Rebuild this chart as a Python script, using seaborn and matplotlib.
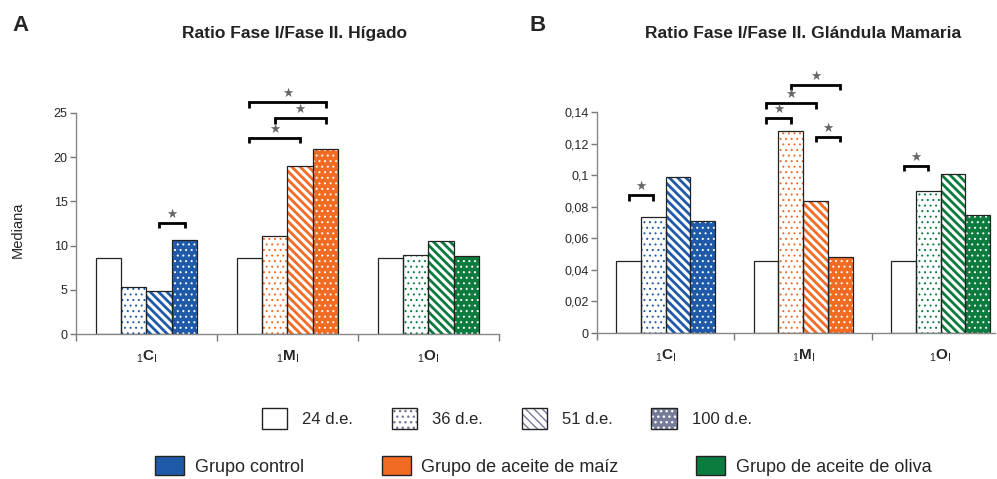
import matplotlib
matplotlib.use("Agg")
import matplotlib.pyplot as plt
from matplotlib.patches import Patch
from matplotlib.legend_handler import HandlerTuple
from matplotlib.ticker import FuncFormatter
import seaborn as sns
import pandas as pd

# --- data ---------------------------------------------------------------
grupos = ["C", "M", "O"]
etiquetas_x = [r"$_{1}\mathbf{C}_{\mathrm{I}}$", r"$_{1}\mathbf{M}_{\mathrm{I}}$", r"$_{1}\mathbf{O}_{\mathrm{I}}$"]
edades = ["24 d.e.", "36 d.e.", "51 d.e.", "100 d.e."]

higado_24 = [8.6, 8.6, 8.6]
higado_36 = [5.35, 11.05, 8.95]
higado_51 = [4.9, 19.05, 10.5]
higado_100 = [10.6, 20.9, 8.85]

mama_24 = [0.0456, 0.0456, 0.0456]
mama_36 = [0.0736, 0.128, 0.0897]
mama_51 = [0.099, 0.0836, 0.1005]
mama_100 = [0.0707, 0.0483, 0.0745]

# significance brackets: (grupo, edad desde, edad hasta, altura)
higado_sig = [(0, 2, 3, 12.6), (1, 0, 2, 22.2), (1, 1, 3, 24.4), (1, 0, 3, 26.2)]
mama_sig = [(0, 0, 1, 0.0873), (1, 0, 1, 0.136), (1, 0, 2, 0.1454),
            (1, 1, 3, 0.1574), (1, 2, 3, 0.1243), (2, 0, 1, 0.106)]

grupos_leyenda = ["Grupo control", "Grupo de aceite de maíz", "Grupo de aceite de oliva"]
colores = ["#1f5aa8", "#f26b22", "#0b7b3e"]
gris = "#767b99"

# --- style --------------------------------------------------------------
sns.set_theme(style="white")
plt.rcParams["font.family"] = ["Liberation Sans", "DejaVu Sans"]
plt.rcParams["mathtext.fontset"] = "custom"
plt.rcParams["mathtext.rm"] = "Liberation Sans"
plt.rcParams["mathtext.bf"] = "Liberation Sans:bold"
plt.rcParams["hatch.linewidth"] = 1.0

ANCHO = 0.72
PASO = ANCHO / 4
HATCH_PUNTOS = "..."
HATCH_RAYAS = "\\\\\\\\"
LW_PUNTOS = 0.7
LW_RAYAS = 2.0


def estilo_hatch(p, hatch, lw):
    p.set_hatch(hatch)
    if hasattr(p, "set_hatch_linewidth"):
        p.set_hatch_linewidth(lw)
    else:
        p._hatch_linewidth = lw


def centro(g, e):
    return g + (e - 1.5) * PASO


def panel(ax, series, sig, ymax, pierna):
    df = pd.DataFrame({
        "grupo": grupos * 4,
        "edad": [e for e in edades for _ in grupos],
        "valor": [v for s in series for v in s],
    })
    # first pass: fill + hatch, second pass: dark outline on top
    for _ in range(2):
        sns.barplot(data=df, x="grupo", y="valor", hue="edad", hue_order=edades,
                    order=grupos, width=ANCHO, dodge=True, errorbar=None,
                    saturation=1, legend=False, ax=ax)
    conts = ax.containers
    for e, cont in enumerate(conts[:4]):
        for g, p in enumerate(cont):
            c = colores[g]
            p.set_linewidth(0)
            if e == 0:
                p.set_facecolor("white")
            elif e == 1:
                p.set_facecolor("white"); p.set_edgecolor(c)
                estilo_hatch(p, HATCH_PUNTOS, LW_PUNTOS)
            elif e == 2:
                p.set_facecolor("white"); p.set_edgecolor(c)
                estilo_hatch(p, HATCH_RAYAS, LW_RAYAS)
            else:
                p.set_facecolor(c); p.set_edgecolor("white")
                estilo_hatch(p, HATCH_PUNTOS, LW_PUNTOS)
    for cont in conts[4:8]:
        for p in cont:
            p.set_facecolor("none")
            p.set_edgecolor("#222222")
            p.set_linewidth(0.9)

    for g, e1, e2, y in sig:
        x1, x2 = centro(g, e1), centro(g, e2)
        ax.plot([x1, x1, x2, x2], [y - pierna, y, y, y - pierna], color="black",
                lw=2, clip_on=False, solid_capstyle="butt", solid_joinstyle="miter")
        ax.annotate("★", xy=((x1 + x2) / 2, y), xytext=(0, 1.5), textcoords="offset points",
                    ha="center", va="bottom", fontsize=9, color="#666666",
                    family="DejaVu Sans", annotation_clip=False)

    ax.set_ylim(0, ymax)
    ax.set_xticks([0, 1, 2], etiquetas_x, fontsize=11)
    ax.set_xticks([-0.5, 0.5, 1.5, 2.5], minor=True)
    ax.tick_params(axis="x", which="major", length=0, pad=10)
    ax.tick_params(axis="x", which="minor", length=5, width=1, color="#777777", direction="out", bottom=True)
    ax.tick_params(axis="y", length=4, width=1, color="#777777", direction="out", left=True,
                   labelsize=9, pad=2)
    ax.set_xlabel("")
    for s in ["top", "right"]:
        ax.spines[s].set_visible(False)
    for s in ["left", "bottom"]:
        ax.spines[s].set_color("#888888")
        ax.spines[s].set_linewidth(1)


fig = plt.figure(figsize=(9.97, 4.79), dpi=100)
ax1 = fig.add_axes([0.0762, 0.3027, 0.4243, 0.4614])
ax2 = fig.add_axes([0.5988, 0.3048, 0.3992, 0.4614])

panel(ax1, [higado_24, higado_36, higado_51, higado_100], higado_sig, 25, 0.6)
ax1.set_xlim(-0.5, 2.5)
ax1.set_yticks([0, 5, 10, 15, 20, 25])
ax1.set_ylabel("Mediana", fontsize=10.5)
ax1.yaxis.set_label_coords(-0.12, 0.47)

panel(ax2, [mama_24, mama_36, mama_51, mama_100], mama_sig, 0.14, 0.0035)
ax2.set_xlim(-0.5, 2.395)
ax2.set_yticks([0, 0.02, 0.04, 0.06, 0.08, 0.1, 0.12, 0.14])
ax2.yaxis.set_major_formatter(FuncFormatter(lambda v, _: f"{v:g}".replace(".", ",")))
ax2.set_ylabel("")

fig.text(0.012, 0.946, "A", fontsize=16, fontweight="bold", va="center", ha="left")
fig.text(0.531, 0.946, "B", fontsize=16, fontweight="bold", va="center", ha="left")
fig.text(0.295, 0.931, "Ratio Fase I/Fase II. Hígado", fontsize=12.5, fontweight="bold",
         ha="center", va="center", color="#222222")
fig.text(0.8054, 0.931, "Ratio Fase I/Fase II. Glándula Mamaria", fontsize=12.5,
         fontweight="bold", ha="center", va="center", color="#222222")

# legend row 1: ages
borde = Patch(facecolor="none", edgecolor="#222222", lw=1)
h_puntos = Patch(facecolor="white", edgecolor=gris, lw=0)
estilo_hatch(h_puntos, HATCH_PUNTOS, LW_PUNTOS)
h_rayas = Patch(facecolor="white", edgecolor=gris, lw=0)
estilo_hatch(h_rayas, HATCH_RAYAS, LW_RAYAS)
h_lleno = Patch(facecolor=gris, edgecolor="white", lw=0)
estilo_hatch(h_lleno, HATCH_PUNTOS, LW_PUNTOS)
h_edad = [
    Patch(facecolor="white", edgecolor="#222222", lw=1),
    (h_puntos, borde),
    (h_rayas, borde),
    (h_lleno, borde),
]
fig.legend(h_edad, edades, loc="center", bbox_to_anchor=(0.5085, 0.127), ncol=4,
           frameon=False, fontsize=12, handlelength=1.55, handleheight=1.55,
           handletextpad=0.9, columnspacing=2.3,
           handler_map={tuple: HandlerTuple(ndivide=1, pad=0)})

# legend row 2: groups
h_grupo = [Patch(facecolor=c, edgecolor="#222222", lw=1) for c in colores]
fig.legend(h_grupo, grupos_leyenda, loc="center", bbox_to_anchor=(0.545, 0.027), ncol=3,
           frameon=False, fontsize=13, handlelength=1.6, handleheight=1.25,
           handletextpad=0.6, columnspacing=4.3)

fig.savefig("out.png", dpi=100)
